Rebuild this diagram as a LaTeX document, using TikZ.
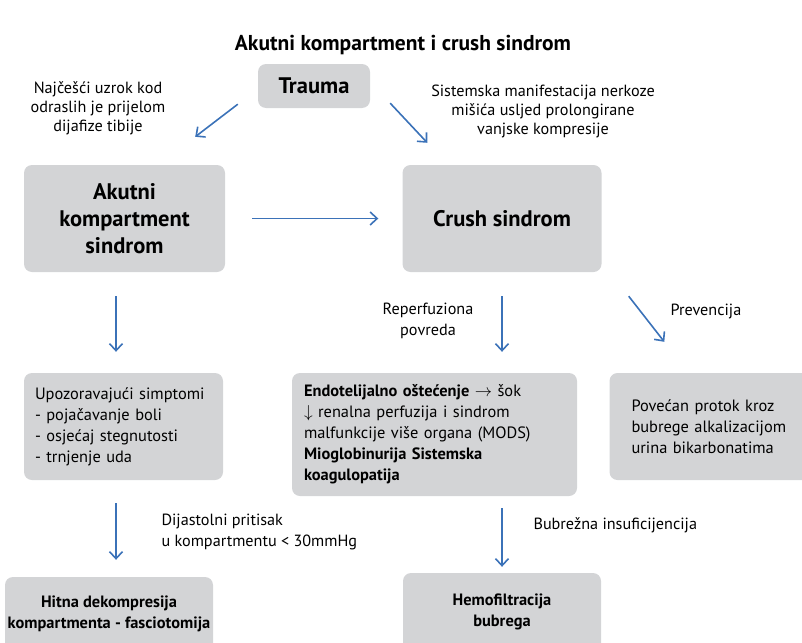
\documentclass[tikz,border=0pt]{standalone}
\usepackage{fontspec}
\setmainfont{PT Sans}
\usetikzlibrary{arrows.meta,calc}
\definecolor{boxgray}{HTML}{D3D4D6}
\definecolor{arrblue}{HTML}{3B72B8}
\tikzset{
  box/.style={fill=boxgray, rounded corners=8pt, inner sep=0pt, align=center},
  arr/.style={arrblue, line width=1.6pt, -{Straight Barb[length=7pt,width=13pt]}},
  lbl/.style={font=\fontsize{16.2}{19}\selectfont, align=center},
  bigtxt/.style={font=\bfseries\fontsize{22.5}{27}\selectfont},
  smalltxt/.style={font=\fontsize{16.4}{21}\selectfont},
}

\begin{document}
\begin{tikzpicture}[x=1pt, y=-1pt]
\useasboundingbox (0,0) rectangle (802,642);

\node[font=\bfseries\fontsize{21.5}{22}\selectfont] (title) at (403,45) {Akutni kompartment i crush sindrom};

\node[box, minimum width=112pt, minimum height=44pt, font=\bfseries\fontsize{22.5}{24}\selectfont] (trauma) at (314,86) {Trauma};

\node[box, bigtxt, minimum width=201pt, minimum height=107pt] (akutni) at (124.5,218.5) {Akutni\\kompartment\\sindrom};
\node[box, bigtxt, minimum width=199pt, minimum height=107pt] (crush) at (502,218.5) {Crush sindrom};

\node[box, smalltxt, minimum width=199pt, minimum height=107pt, text width=177pt, align=left] (upoz) at (123.5,426.5)
  {Upozoravajući simptomi\\- pojačavanje boli\\- osjećaj stegnutosti\\- trnjenje uda};
\node[box, smalltxt, minimum width=285pt, minimum height=123pt, text width=261pt, align=left] (endo) at (434.5,434.5)
  {\textbf{Endotelijalno oštećenje} $\rightarrow$ šok\\$\downarrow$ renalna perfuzija i sindrom\\malfunkcije više organa (MODS)\\\textbf{Mioglobinurija Sistemska}\\\textbf{koagulopatija}};
\node[box, smalltxt, minimum width=205pt, minimum height=107pt, text width=161pt, align=left] (povecan) at (712,426.5)
  {Povećan protok kroz\\bubrege alkalizacijom\\urina bikarbonatima};

\node[box, font=\bfseries\fontsize{16.4}{21}\selectfont, minimum width=208pt, minimum height=74pt] (hitna) at (109,614)
  {Hitna dekompresija\\kompartmenta - fasciotomija};
\node[box, font=\bfseries\fontsize{16.4}{21}\selectfont, minimum width=198pt, minimum height=78pt] (hemo) at (502,612)
  {Hemofiltracija\\bubrega};

% labels
\node[lbl] (uzrok) at (98,108) {Najčešći uzrok kod\\odraslih je prijelom\\dijafize tibije};
\node[lbl] (sistem) at (543,111) {Sistemska manifestacija nerkoze\\mišića usljed prolongirane\\vanjske kompresije};
\node[lbl, font=\fontsize{16.2}{21}\selectfont] (reperf) at (428,321) {Reperfuziona\\povreda};
\node[lbl] (prev) at (706,311) {Prevencija};
\node[lbl, align=left, anchor=west, font=\fontsize{16.2}{21}\selectfont] (dijast) at (158,531.5) {Dijastolni pritisak\\u kompartmentu < 30mmHg};
\node[lbl, anchor=west] (bubr) at (530,525) {Bubrežna insuficijencija};

% arrows
\draw[arr] ($(trauma.south west)+(-20,-4)$) -- ($(akutni.north east)+(-30,-28)$);
\draw[arr] ($(trauma.south east)+(20,-5)$) -- ($(crush.north west)+(25,-22)$);
\draw[arr, shorten <=27pt, shorten >=24pt] (akutni.east) -- (crush.west);
\draw[arr] ($(akutni.south)+(-8.5,24)$) -- ($(upoz.north)+(-7.5,-21)$);
\draw[arr] ($(crush.south)+(0,24)$) -- ($(endo.north)+(67.5,-21)$);
\draw[arr] ($(crush.south east)+(27,24)$) -- ($(povecan.north west)+(55,-31)$);
\draw[arr] ($(upoz.south)+(-7.5,23)$) -- ($(hitna.north)+(7,-17)$);
\draw[arr] ($(endo.south)+(67.5,12)$) -- ($(hemo.north)+(0,-6)$);

\end{tikzpicture}
\end{document}
